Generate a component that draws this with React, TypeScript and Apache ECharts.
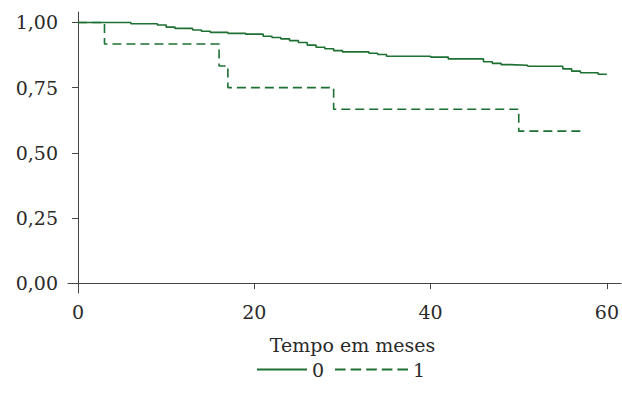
import React, { useEffect, useRef } from "react";
import * as echarts from "echarts";

const months0 = [0, 6, 9, 10, 11, 13, 14, 15, 17, 19, 21, 22, 23, 24, 25, 26, 27, 28, 29, 30, 33, 34, 35, 40, 42, 46, 47, 48, 49, 51, 55, 56, 57, 59, 60];
const surv0 = [1.0, 0.995, 0.99, 0.982, 0.977, 0.971, 0.966, 0.962, 0.958, 0.955, 0.947, 0.942, 0.937, 0.93, 0.923, 0.913, 0.905, 0.899, 0.892, 0.887, 0.882, 0.877, 0.87, 0.867, 0.86, 0.849, 0.843, 0.838, 0.836, 0.832, 0.822, 0.813, 0.807, 0.801, 0.801];

const months1 = [0, 3, 16, 17, 29, 50, 57];
const surv1 = [1.0, 0.917, 0.833, 0.75, 0.667, 0.583, 0.583];

const xTicks = [0, 20, 40, 60];
const yTicks = [0, 0.25, 0.5, 0.75, 1];
const seriesNames = ["0", "1"];
const xTitle = "Tempo em meses";

const GREEN = "#1c7031";
const AXIS = "#444";
const TEXT = "#2a2a2a";
const FONT = "DejaVu Serif";

const SOLID_ICON = "path://M0,0H50V2H0Z";
const DASH_ICON =
  "path://M0,0h10.6v2h-10.6z M15.6,0h10.6v2h-10.6z M31.2,0h10.6v2h-10.6z M46.8,0h10.6v2h-10.6z M62.4,0h10.6v2h-10.6z";

export default function App() {
  const ref = useRef<HTMLDivElement>(null);
  useEffect(() => {
    if (!ref.current) return;
    const chart = echarts.init(ref.current, null, { renderer: "svg" });
    const fontSize = 19;
    chart.setOption({
      animation: false,
      backgroundColor: "#fff",
      textStyle: { fontFamily: FONT },
      grid: { left: 68, right: 1, top: 12, bottom: 100, containLabel: false },
      legend: [
        {
          data: [{ name: seriesNames[0], icon: SOLID_ICON }],
          left: 257,
          top: 360,
          padding: 0,
          itemWidth: 50,
          itemHeight: 2,
          symbolKeepAspect: false,
          textStyle: { fontFamily: FONT, fontSize, color: TEXT },
        },
        {
          data: [{ name: seriesNames[1], icon: DASH_ICON }],
          left: 335,
          top: 360,
          padding: 0,
          itemWidth: 73,
          itemHeight: 2,
          symbolKeepAspect: false,
          textStyle: { fontFamily: FONT, fontSize, color: TEXT },
        },
      ],
      xAxis: {
        type: "value",
        min: -1.14,
        max: 61.6,
        name: xTitle,
        nameLocation: "middle",
        nameGap: 42,
        nameTextStyle: { fontFamily: FONT, fontSize, color: TEXT, padding: [0, 0, 0, 16] },
        axisLine: { show: true, lineStyle: { color: AXIS, width: 1 } },
        axisTick: { show: true, length: 6, lineStyle: { color: AXIS }, customValues: xTicks },
        axisLabel: { fontFamily: FONT, fontSize, color: TEXT, margin: 9, customValues: xTicks },
        splitLine: { show: false },
      },
      yAxis: {
        type: "value",
        min: -0.038,
        max: 1.04,
        axisLine: { show: true, lineStyle: { color: AXIS, width: 1 } },
        axisTick: { show: true, length: 6, lineStyle: { color: AXIS }, customValues: yTicks },
        axisLabel: {
          fontFamily: FONT,
          fontSize,
          color: TEXT,
          margin: 10,
          customValues: yTicks,
          formatter: (v: number) => v.toFixed(2).replace(".", ","),
        },
        splitLine: { show: false },
      },
      series: [
        {
          name: seriesNames[0],
          type: "line",
          step: "end",
          showSymbol: false,
          symbol: "none",
          data: months0.map((m, i) => [m, surv0[i]]),
          lineStyle: { color: GREEN, width: 1.6, type: "solid" },
          itemStyle: { color: GREEN },
          z: 3,
        },
        {
          name: seriesNames[1],
          type: "line",
          step: "end",
          showSymbol: false,
          symbol: "none",
          data: months1.map((m, i) => [m, surv1[i]]),
          lineStyle: { color: GREEN, width: 1.6, type: [9, 5] },
          itemStyle: { color: GREEN },
          z: 2,
        },
      ],
    });
    return () => chart.dispose();
  }, []);
  return (
    <div
      ref={ref}
      style={{ position: "fixed", left: 0, top: 0, width: 622, height: 393, background: "#fff" }}
    />
  );
}
